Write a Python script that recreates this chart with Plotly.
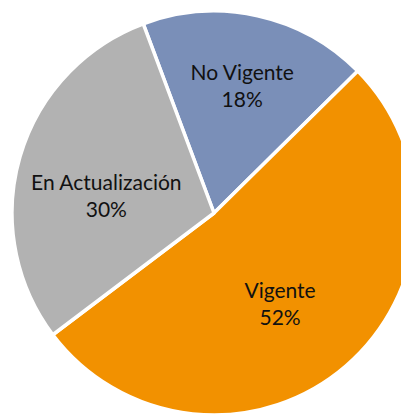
import plotly.graph_objects as go

labels = ["No Vigente", "Vigente", "En Actualización"]
values = [18.3, 52.1, 29.6]
colors = ["#7A8FB8", "#F29100", "#B2B2B2"]

templates = [
    "%{label}<br>%{percent:.0%}",
    "&nbsp;<br>%{label}<br>%{percent:.0%}",
    "&nbsp;<br>%{label}<br>%{percent:.0%}",
]

fig = go.Figure(go.Pie(
    labels=labels,
    values=values,
    sort=False,
    direction="clockwise",
    rotation=-20.5,
    marker=dict(colors=colors, line=dict(color="white", width=3.5)),
    texttemplate=templates,
    textposition="inside",
    insidetextorientation="horizontal",
    textfont=dict(family="Lato", size=21, color="#111111"),
    showlegend=False,
    hoverinfo="label+percent",
))
fig.update_layout(
    width=409, height=416,
    margin=dict(l=4, r=1, t=3, b=9),
    paper_bgcolor="white",
    plot_bgcolor="white",
)
fig.write_html("out.html")
